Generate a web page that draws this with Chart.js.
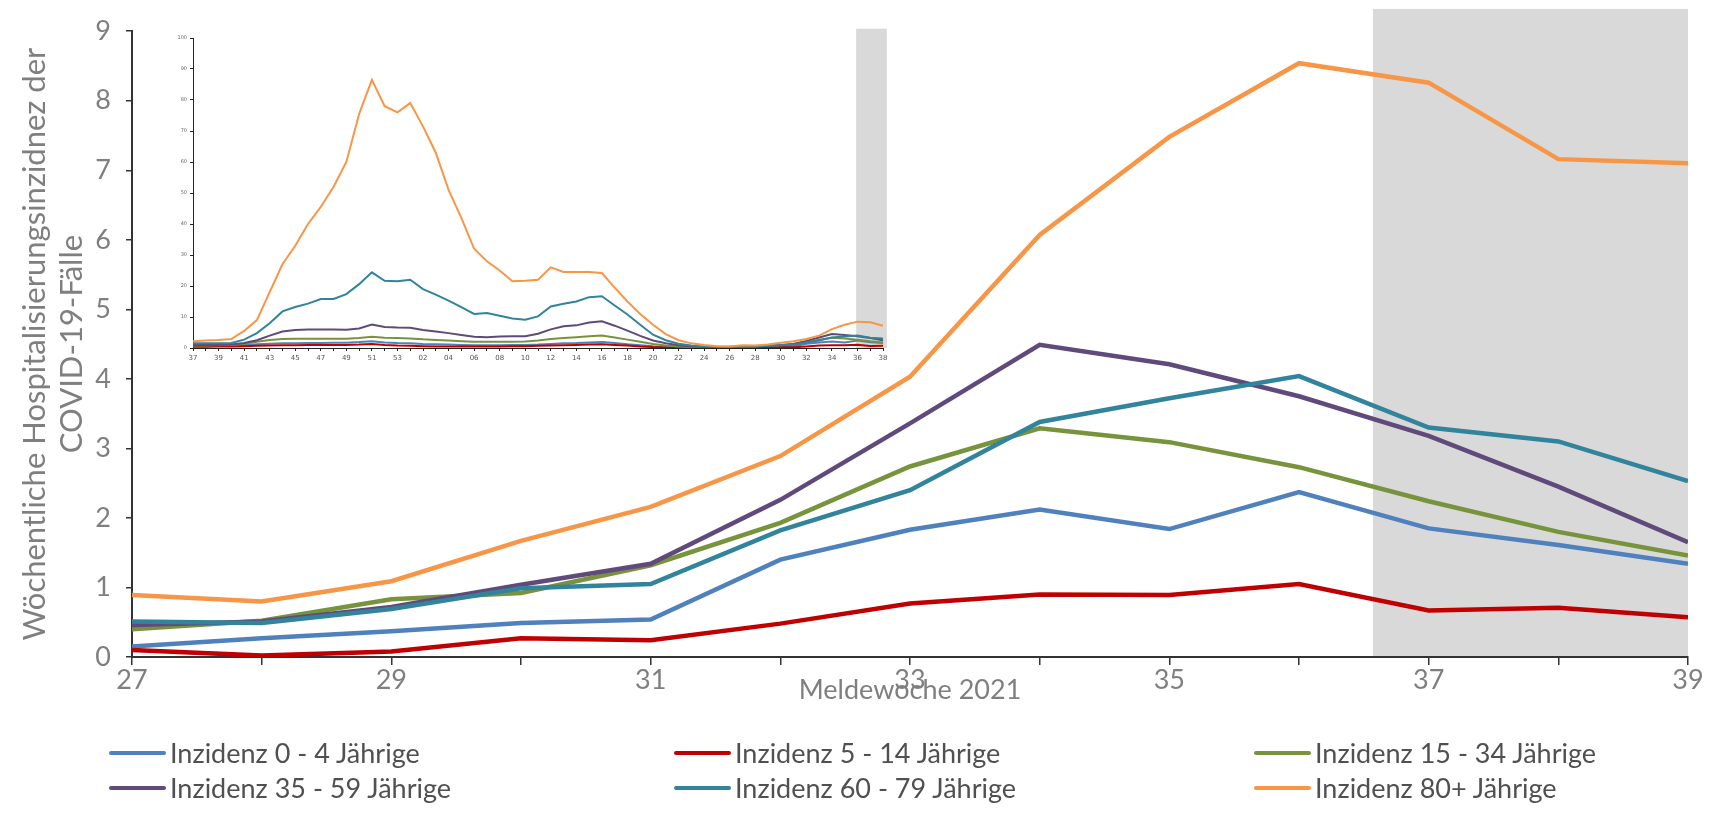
<!DOCTYPE html>
<html lang="de">
<head>
<meta charset="utf-8">
<title>Hospitalisierungsinzidenz nach Altersgruppen</title>
<script src="https://cdn.jsdelivr.net/npm/chart.js@4.4.1/dist/chart.umd.min.js"></script>
<style>
  html, body { margin: 0; padding: 0; background: #fff; }
  #wrap { position: relative; width: 1713px; height: 822px; font-family: Lato, "Open Sans", sans-serif; }
  #mainChart { position: absolute; left: 0; top: 0; }
  #insetChart { position: absolute; left: 163px; top: 20px; }
  #legend {
    position: absolute; left: 109px; top: 735px;
    display: grid; grid-template-columns: 565px 580px 400px;
  }
  .item { display: flex; align-items: center; height: 35px; font-size: 27px; color: #505050; white-space: nowrap; }
  .swatch { width: 57px; height: 4px; border-radius: 2px; margin-right: 4px; }
</style>
</head>
<body>
<div id="wrap">
  <canvas id="mainChart" width="1713" height="822"></canvas>
  <canvas id="insetChart" width="730" height="350"></canvas>
  <div id="legend"></div>
</div>
<script>
// main chart: Meldewoche 27-39 2021
const weeks = [27, 28, 29, 30, 31, 32, 33, 34, 35, 36, 37, 38, 39];
const inz0to4 = [0.15, 0.27, 0.37, 0.49, 0.54, 1.40, 1.83, 2.12, 1.84, 2.37, 1.85, 1.61, 1.34];
const inz5to14 = [0.10, 0.02, 0.08, 0.27, 0.24, 0.48, 0.77, 0.90, 0.89, 1.05, 0.67, 0.71, 0.57];
const inz15to34 = [0.40, 0.52, 0.83, 0.92, 1.32, 1.93, 2.74, 3.29, 3.09, 2.73, 2.24, 1.80, 1.46];
const inz35to59 = [0.46, 0.51, 0.72, 1.04, 1.34, 2.26, 3.36, 4.49, 4.21, 3.75, 3.18, 2.45, 1.65];
const inz60to79 = [0.51, 0.49, 0.69, 0.99, 1.05, 1.82, 2.40, 3.38, 3.72, 4.04, 3.30, 3.10, 2.53];
const inz80plus = [0.89, 0.80, 1.09, 1.67, 2.16, 2.89, 4.03, 6.07, 7.48, 8.54, 8.26, 7.16, 7.10];

// inset: Meldewoche 37/2020 - 38/2021
const insetWeeks = [
  "37", "38", "39", "40", "41", "42", "43", "44", "45", "46", "47", "48", "49", "50", "51", "52", "53",
  "01", "02", "03", "04", "05", "06", "07", "08", "09", "10", "11", "12", "13", "14", "15", "16", "17",
  "18", "19", "20", "21", "22", "23", "24", "25", "26", "27", "28", "29", "30", "31", "32", "33", "34",
  "35", "36", "37", "38"
];
const insetInz0to4 = [0.6, 0.6, 0.7, 0.8, 1.0, 1.2, 1.4, 1.5, 1.5, 1.6, 1.6, 1.7, 1.7, 1.9, 2.2, 1.8, 1.6, 1.5, 1.3, 1.2, 1.1, 1.0, 0.9, 0.9, 0.9, 1.0, 1.0, 1.1, 1.3, 1.5, 1.6, 1.8, 1.9, 1.6, 1.2, 0.9, 0.6, 0.4, 0.3, 0.2, 0.15, 0.15, 0.15, 0.15, 0.27, 0.37, 0.49, 0.54, 1.4, 1.8, 2.1, 1.8, 2.4, 1.85, 1.6];
const insetInz5to14 = [0.4, 0.4, 0.5, 0.5, 0.6, 0.7, 0.8, 0.9, 0.9, 1.0, 1.0, 1.0, 1.0, 1.1, 1.3, 1.0, 0.8, 0.7, 0.6, 0.5, 0.5, 0.5, 0.5, 0.5, 0.5, 0.6, 0.6, 0.7, 0.8, 0.9, 1.0, 1.1, 1.2, 1.0, 0.8, 0.5, 0.3, 0.2, 0.1, 0.1, 0.05, 0.05, 0.05, 0.1, 0.02, 0.08, 0.27, 0.24, 0.48, 0.77, 0.9, 0.89, 1.05, 0.67, 0.71];
const insetInz15to34 = [0.8, 0.8, 0.9, 1.0, 1.4, 2.0, 2.6, 2.9, 3.0, 3.0, 3.0, 3.0, 3.0, 3.2, 3.6, 3.3, 3.2, 3.1, 2.8, 2.6, 2.4, 2.2, 2.0, 2.0, 2.0, 2.0, 2.1, 2.4, 2.9, 3.2, 3.5, 3.8, 4.0, 3.4, 2.7, 2.0, 1.3, 0.8, 0.5, 0.3, 0.2, 0.2, 0.25, 0.4, 0.5, 0.8, 0.9, 1.3, 1.9, 2.7, 3.3, 3.1, 2.7, 2.2, 1.8];
const insetInz35to59 = [1.0, 1.0, 1.0, 1.1, 1.6, 2.5, 4.0, 5.3, 5.8, 6.0, 6.0, 6.0, 5.9, 6.3, 7.6, 6.8, 6.6, 6.5, 5.8, 5.3, 4.8, 4.2, 3.6, 3.5, 3.7, 3.8, 3.8, 4.6, 6.0, 7.0, 7.3, 8.2, 8.6, 7.2, 5.6, 3.9, 2.4, 1.5, 0.9, 0.5, 0.3, 0.3, 0.3, 0.45, 0.5, 0.7, 1.0, 1.3, 2.3, 3.4, 4.5, 4.2, 3.8, 3.2, 2.5];
const insetInz60to79 = [1.5, 1.5, 1.5, 1.6, 2.7, 4.8, 8.0, 11.8, 13.2, 14.3, 15.8, 15.8, 17.4, 20.6, 24.4, 21.7, 21.5, 22.0, 19.0, 17.2, 15.3, 13.2, 11.0, 11.3, 10.4, 9.5, 9.1, 10.2, 13.4, 14.3, 15.0, 16.4, 16.7, 13.7, 10.8, 7.5, 4.3, 2.5, 1.4, 0.8, 0.5, 0.4, 0.4, 0.5, 0.5, 0.7, 1.0, 1.05, 1.8, 2.4, 3.4, 3.7, 4.0, 3.3, 3.1];
const insetInz80plus = [2.2, 2.4, 2.6, 2.9, 5.5, 9.0, 18.0, 27.0, 33.0, 40.0, 45.5, 52.0, 60.0, 75.5, 86.5, 78.0, 76.0, 79.0, 71.5, 63.0, 51.0, 42.0, 32.0, 28.0, 25.0, 21.5, 21.7, 22.0, 26.0, 24.5, 24.5, 24.5, 24.2, 19.5, 15.0, 11.0, 7.5, 4.5, 2.5, 1.5, 1.0, 0.6, 0.5, 0.9, 0.8, 1.1, 1.7, 2.2, 2.9, 4.0, 6.1, 7.5, 8.5, 8.3, 7.2];

const seriesLabels = [
  "Inzidenz 0 - 4 Jährige",
  "Inzidenz 5 - 14 Jährige",
  "Inzidenz 15 - 34 Jährige",
  "Inzidenz 35 - 59 Jährige",
  "Inzidenz 60 - 79 Jährige",
  "Inzidenz 80+ Jährige"
];
const seriesColors = ["#4F81BD", "#C00000", "#77933C", "#604A7B", "#31849B", "#F79646"];

const mainSeries = [inz0to4, inz5to14, inz15to34, inz35to59, inz60to79, inz80plus];
const insetSeries = [insetInz0to4, insetInz5to14, insetInz15to34, insetInz35to59, insetInz60to79, insetInz80plus];

const gray = "#7F7F7F";
const axisColor = "#333333";

// grey band for the not yet complete weeks
const shadePlugin = {
  id: "shade",
  beforeDraw(chart, args, opts) {
    const ctx = chart.ctx;
    const left = chart.scales.x.getPixelForValue(opts.from);
    const right = chart.scales.x.getPixelForValue(opts.to);
    const top = chart.scales.y.getPixelForValue(opts.top);
    const bottom = chart.scales.y.getPixelForValue(0);
    ctx.save();
    ctx.fillStyle = opts.color;
    ctx.fillRect(left, top, right - left, bottom - top);
    ctx.restore();
  }
};

function makeDatasets(seriesList, width, withX) {
  return seriesList.map(function (values, i) {
    return {
      label: seriesLabels[i],
      data: withX ? values.map(function (v, j) { return { x: weeks[j], y: v }; }) : values,
      borderColor: seriesColors[i],
      backgroundColor: seriesColors[i],
      borderWidth: width,
      pointRadius: 0,
      tension: 0,
      fill: false,
      order: seriesList.length - i
    };
  });
}

let mainChart = new Chart(document.getElementById("mainChart"), {
  type: "line",
  data: { datasets: makeDatasets(mainSeries, 4.5, true) },
  options: {
    responsive: false,
    animation: false,
    layout: { padding: { top: 24, right: 25, bottom: 85, left: 0 } },
    plugins: {
      legend: { display: false },
      tooltip: { enabled: false },
      shade: { from: 36.57, to: 39, top: 9.32, color: "#D9D9D9" }
    },
    scales: {
      x: {
        type: "linear",
        min: 27,
        max: 39,
        afterFit: function (scale) { scale.height = 80; },
        grid: { drawOnChartArea: false, drawTicks: true, tickLength: 8, color: axisColor, lineWidth: 1.5 },
        border: { display: true, color: axisColor, width: 2 },
        ticks: {
          stepSize: 1,
          autoSkip: false,
          maxRotation: 0,
          padding: -1,
          color: gray,
          font: { family: "Lato", size: 27 },
          callback: function (value) { return value % 2 === 1 ? String(value) : ""; }
        },
        title: {
          display: true,
          text: "Meldewoche 2021",
          color: gray,
          font: { family: "Lato", size: 27 },
          padding: { top: 0, bottom: 31 }
        }
      },
      y: {
        min: 0,
        max: 9,
        afterFit: function (scale) { scale.width = 132; },
        grid: { drawOnChartArea: false, drawTicks: true, tickLength: 6, color: axisColor, lineWidth: 1.5 },
        border: { display: true, color: axisColor, width: 2 },
        ticks: { stepSize: 1, padding: 15, color: gray, font: { family: "Lato", size: 27 } },
        title: {
          display: true,
          text: ["Wöchentliche Hospitalisierungsinzidnez der", "COVID-19-Fälle"],
          color: gray,
          font: { family: "Lato", size: 31, lineHeight: 1.2 },
          padding: { top: 16, bottom: 0 }
        }
      }
    }
  },
  plugins: [shadePlugin]
});

let insetChart = new Chart(document.getElementById("insetChart"), {
  type: "line",
  data: { labels: insetWeeks, datasets: makeDatasets(insetSeries, 2, false) },
  options: {
    responsive: false,
    animation: false,
    layout: { padding: { top: 18, right: 10, bottom: 0, left: 0 } },
    plugins: {
      legend: { display: false },
      tooltip: { enabled: false },
      shade: { from: 51.9, to: 54.3, top: 103, color: "#D9D9D9" }
    },
    scales: {
      x: {
        type: "category",
        offset: false,
        afterFit: function (scale) { scale.height = 22; },
        grid: { drawOnChartArea: false, drawTicks: true, tickLength: 3, color: "#222", lineWidth: 1 },
        border: { display: true, color: "#222", width: 1 },
        ticks: {
          autoSkip: false,
          maxRotation: 0,
          padding: 3,
          color: "#555",
          font: { family: "DejaVu Sans", size: 7 },
          callback: function (value, index) { return index % 2 === 0 ? insetWeeks[index] : ""; }
        }
      },
      y: {
        min: 0,
        max: 100,
        afterFit: function (scale) { scale.width = 30; },
        grid: { drawOnChartArea: false, drawTicks: true, tickLength: 3, color: "#222", lineWidth: 1 },
        border: { display: true, color: "#222", width: 1 },
        ticks: { stepSize: 10, padding: 3, color: "#666", font: { family: "DejaVu Sans", size: 5 } }
      }
    }
  },
  plugins: [shadePlugin]
});

function createLegend() {
  const legend = document.getElementById("legend");
  for (let i = 0; i < seriesLabels.length; i++) {
    let item = document.createElement("div");
    item.className = "item";
    let swatch = document.createElement("span");
    swatch.className = "swatch";
    swatch.style.backgroundColor = seriesColors[i];
    let text = document.createElement("span");
    text.textContent = seriesLabels[i];
    item.appendChild(swatch);
    item.appendChild(text);
    legend.appendChild(item);
  }
}

createLegend();
</script>
</body>
</html>
